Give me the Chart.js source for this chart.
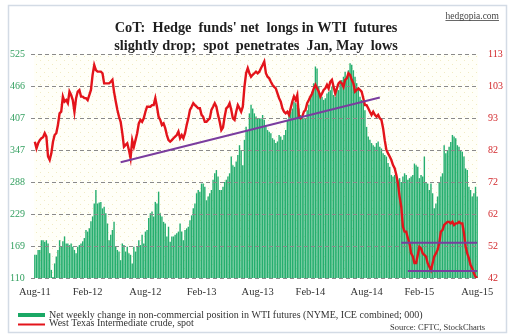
<!DOCTYPE html>
<html><head><meta charset="utf-8">
<script src="https://cdn.jsdelivr.net/npm/chart.js@4/dist/chart.umd.min.js"></script>
<style>html,body{margin:0;padding:0;background:#fff}#wrap{position:relative;width:516px;height:335px}canvas{display:block}</style>
</head><body><div id="wrap"><canvas id="c" width="516" height="335"></canvas></div>
<script>
// ---- data (weekly-ish samples, Aug-11 .. Aug-15) ----
const netLongs = [
153,153,162,162,180,180,177,180,174,156,125,112,137,150,162,180,168,178,187,174,174,171,174,168,162,156,168,171,174,178,184,199,196,202,215,224,248,273,248,250,251,239,242,230,211,
180,190,199,214,168,162,159,143,174,171,159,168,156,153,137,168,159,168,180,171,190,174,196,199,221,230,233,224,251,248,270,230,224,214,211,187,205,177,187,187,190,193,196,211,196,
180,199,202,205,217,226,239,248,267,273,270,285,285,279,254,261,267,273,292,304,310,298,273,273,279,288,292,298,304,335,319,316,326,338,356,347,319,366,390,384,415,431,424,415,409,
406,406,406,412,403,390,384,381,378,369,366,360,363,375,372,366,375,384,403,415,418,424,437,434,431,424,412,409,406,406,421,431,446,455,471,502,498,465,452,446,440,443,452,455,458,
465,449,446,465,458,471,477,483,492,483,495,508,505,495,483,471,461,446,440,434,421,390,372,366,360,356,353,360,363,353,350,341,338,335,323,316,301,298,301,298,292,295,288,298,304,
301,292,295,298,301,322,319,316,295,301,298,335,288,285,273,285,267,239,248,261,288,298,304,356,341,347,353,362,375,372,369,356,353,347,344,335,313,310,279,273,261,267,279,261
];
const wtiSpot = [
85.2,83.1,84.7,85.7,86.3,86.6,87.9,86.8,80.5,79.4,81.5,85.2,87.3,87.9,90.5,94.2,94.7,99.5,97.9,98.4,97.4,101.1,100,98.4,94.7,99,101.1,101.6,99.5,99.5,99,99,98.4,100,101.6,106.4,109.5,107.9,107.4,107.4,107.4,106.9,103.7,103.7,103.7,
103.7,104.2,104.8,101,98,95.3,93.1,91.5,87.9,83.6,84.2,84.7,82.6,80,85.7,83.6,85.7,87.9,91,92.1,91.5,92.6,94.7,96.3,96.3,96.3,96.8,96.8,99,96.3,93.1,92.1,90.5,91,89.5,87.3,85.7,85.2,85.7,86.3,86.8,87.3,88.4,86.3,87.3,
86.3,87.9,90.5,92.6,95.3,96.3,97.4,96.8,96.3,95.8,95.8,93.7,93.1,91.5,91.5,92.1,92.6,95.3,96.3,97.4,96.3,93.7,91.5,88.9,89.7,93.1,95.8,96.3,97.4,95.3,92.6,92.1,94.7,96.8,95.8,94.7,96.3,102.6,106.9,108.5,106.9,105.8,106.4,106.9,107.4,
106.9,107.4,108.5,109.5,110.6,106.9,105.8,105.3,104.2,103.2,102.6,102.1,100.5,99,97.9,95.8,94.7,94.2,94.7,93.7,95.8,97.9,99.5,98.4,100,93.1,92.6,93.1,94.7,95.3,97.4,98.4,99.5,100.5,102.1,103.2,102.1,101.1,99.5,100.5,101.6,102.1,103.2,102.1,104.2,
104.8,102.6,100.5,102.1,103.7,104.2,103.7,102.6,104.8,105.3,106.9,106.4,104.8,103.7,101.1,101.6,102.1,101.6,101.1,99,96.8,96.8,95.8,94.7,93.7,94.7,93.7,93.1,93.7,92.6,92.1,89.5,85.7,82.6,81.5,80.5,79.4,77.8,76.8,74.7,72,67.8,64.6,58.3,56.7,
56.7,54.6,53,49.8,48.8,46.7,46.7,49.3,51.9,51.4,49.8,49.3,48.8,46.7,45.6,44.5,46.7,48.8,49.8,50.9,53,56.7,57.2,58.8,59.3,59.8,59.8,59.3,59.8,58.8,59.3,59.3,59.8,59.3,59.3,56.2,51.9,49.8,48.2,46.1,45.1,43.5,42.4,42
];
const tickLabels = ['Aug-11','Feb-12','Aug-12','Feb-13','Aug-13','Feb-14','Aug-14','Feb-15','Aug-15'];
const tickSample = [0, 32, 67, 101, 135, 167, 201, 233, 268];
const leftTickLabels = ['110','169','229','288','347','407','466','525'];
const rightTickLabels = ['42','52','62','72','82','93','103','113'];
// trend lines: [start sample, end sample, start value, end value] on WTI axis
const risingSupport = [52, 209, 78.7, 99.2];
const upperBand = [222, 268, 53.2, 53.2];
const lowerBand = [226, 268, 44.2, 44.2];

const N = netLongs.length;
const labels = netLongs.map((_, i) => 'w' + i);
function segment(s) {
  const a = new Array(N).fill(null);
  a[s[0]] = s[2]; a[s[1]] = s[3];
  return a;
}
const SERIF = "'Liberation Serif', 'Times New Roman', serif";

const decor = {
  id: 'decor',
  beforeDraw(chart) {
    const ctx = chart.ctx, ca = chart.chartArea;
    ctx.save();
    ctx.fillStyle = '#fff';
    ctx.fillRect(0, 0, chart.width, chart.height);
    ctx.strokeStyle = '#d3dbe5';
    ctx.lineWidth = 1.5;
    ctx.strokeRect(8.5, 5.5, 498, 327);
    ctx.fillStyle = '#fffff8';
    ctx.fillRect(ca.left, ca.top, ca.right - ca.left, ca.bottom - ca.top);
    ctx.fillStyle = '#f1ebc3';
    for (let y = ca.top + 2, r = 0; y < ca.bottom; y += 4, r++) {
      for (let x = ca.left + 2 + (r % 2) * 4; x < ca.right; x += 8) {
        ctx.fillRect(x, y, 1, 1);
      }
    }
    ctx.restore();
  },
  afterDatasetDraw(chart, args) {
    if (args.index !== 0) return;
    const ctx = chart.ctx, ca = chart.chartArea, ys = chart.scales.y;
    ctx.save();
    ctx.strokeStyle = '#8a8a8a';
    ctx.lineWidth = 1;
    ctx.setLineDash([4, 3]);
    ys.ticks.forEach(t => {
      const y = Math.round(ys.getPixelForValue(t.value)) + 0.5;
      ctx.beginPath(); ctx.moveTo(ca.left - 3, y); ctx.lineTo(ca.right, y); ctx.stroke();
    });
    ctx.restore();
  },
  afterDraw(chart) {
    const ctx = chart.ctx;
    ctx.save();
    ctx.fillStyle = '#1e1e1e';
    ctx.textAlign = 'center';
    ctx.textBaseline = 'middle';
    ctx.font = 'bold 14.3px ' + SERIF;
    ctx.fillText("CoT:  Hedge  funds' net  longs in WTI  futures", 256, 28);
    ctx.fillText('slightly drop;  spot  penetrates  Jan, May  lows', 256, 46);
    ctx.font = '9.5px ' + SERIF;
    ctx.fillStyle = '#444';
    ctx.textAlign = 'right';
    ctx.fillText('hedgopia.com', 499, 16);
    const w = ctx.measureText('hedgopia.com').width;
    ctx.fillRect(499 - w, 20, w, 0.8);
    ctx.textAlign = 'left';
    ctx.fillStyle = '#1aa865';
    ctx.fillRect(18, 313, 27, 4);
    ctx.fillStyle = '#e3141b';
    ctx.fillRect(18, 323.5, 27, 2);
    ctx.fillStyle = '#333';
    ctx.font = '10px ' + SERIF;
    ctx.fillText('Net weekly change in non-commercial position in WTI futures (NYME, ICE combined; 000)', 49, 315);
    ctx.fillText('West Texas Intermediate crude, spot', 49, 323.5);
    ctx.font = '8.5px ' + SERIF;
    ctx.fillText('Source: CFTC, StockCharts', 390, 327.5);
    ctx.restore();
  }
};

new Chart(document.getElementById('c'), {
  data: {
    labels,
    datasets: [
      { type: 'bar', label: 'Net weekly change in non-commercial position in WTI futures (NYME, ICE combined; 000)',
        data: netLongs, yAxisID: 'y', backgroundColor: '#25ae6e', borderWidth: 0,
        barPercentage: 0.85, categoryPercentage: 1, order: 3 },
      { type: 'line', label: 'West Texas Intermediate crude, spot', data: wtiSpot, yAxisID: 'y2',
        borderColor: '#e3141b', borderWidth: 2.4, pointRadius: 0, tension: 0, order: 2 },
      { type: 'line', label: 'rising', data: segment(risingSupport), yAxisID: 'y2', spanGaps: true,
        borderColor: '#7a3d9e', borderWidth: 2, pointRadius: 0, order: 1 },
      { type: 'line', label: 'upper', data: segment(upperBand), yAxisID: 'y2', spanGaps: true,
        borderColor: '#7a3d9e', borderWidth: 2, pointRadius: 0, order: 1 },
      { type: 'line', label: 'lower', data: segment(lowerBand), yAxisID: 'y2', spanGaps: true,
        borderColor: '#7a3d9e', borderWidth: 2, pointRadius: 0, order: 1 }
    ]
  },
  options: {
    responsive: false, animation: false, devicePixelRatio: 1,
    layout: { padding: { top: 54, bottom: 27, left: 10, right: 8 } },
    plugins: { legend: { display: false }, tooltip: { enabled: false }, title: { display: false } },
    scales: {
      x: { type: 'category', offset: true, grid: { display: false, drawTicks: false }, border: { display: false },
        ticks: { autoSkip: false, maxRotation: 0, padding: 8, color: '#333',
          font: { family: SERIF, size: 10.5 },
          callback: (v, i) => { const k = tickSample.indexOf(i); return k >= 0 ? tickLabels[k] : ''; } },
        afterFit: s => { s.height = 30; } },
      y: { position: 'left', min: 110, max: 525, grid: { display: false, drawTicks: false }, border: { display: false },
        afterBuildTicks: s => { s.ticks = leftTickLabels.map((t, i) => ({ value: 110 + i * (525 - 110) / 7 })); },
        ticks: { crossAlign: 'far', padding: 0, color: '#33a060', font: { family: SERIF, size: 10 },
          callback: (v, i) => leftTickLabels[i] },
        afterFit: s => { s.width = 24; } },
      y2: { position: 'right', min: 42, max: 113, grid: { display: false, drawTicks: false }, border: { display: false },
        afterBuildTicks: s => { s.ticks = rightTickLabels.map((t, i) => ({ value: 42 + i * (113 - 42) / 7 })); },
        ticks: { padding: 10, color: '#d2262a', font: { family: SERIF, size: 10 },
          callback: (v, i) => rightTickLabels[i] },
        afterFit: s => { s.width = 30; } }
    }
  },
  plugins: [decor]
});
</script></body></html>
